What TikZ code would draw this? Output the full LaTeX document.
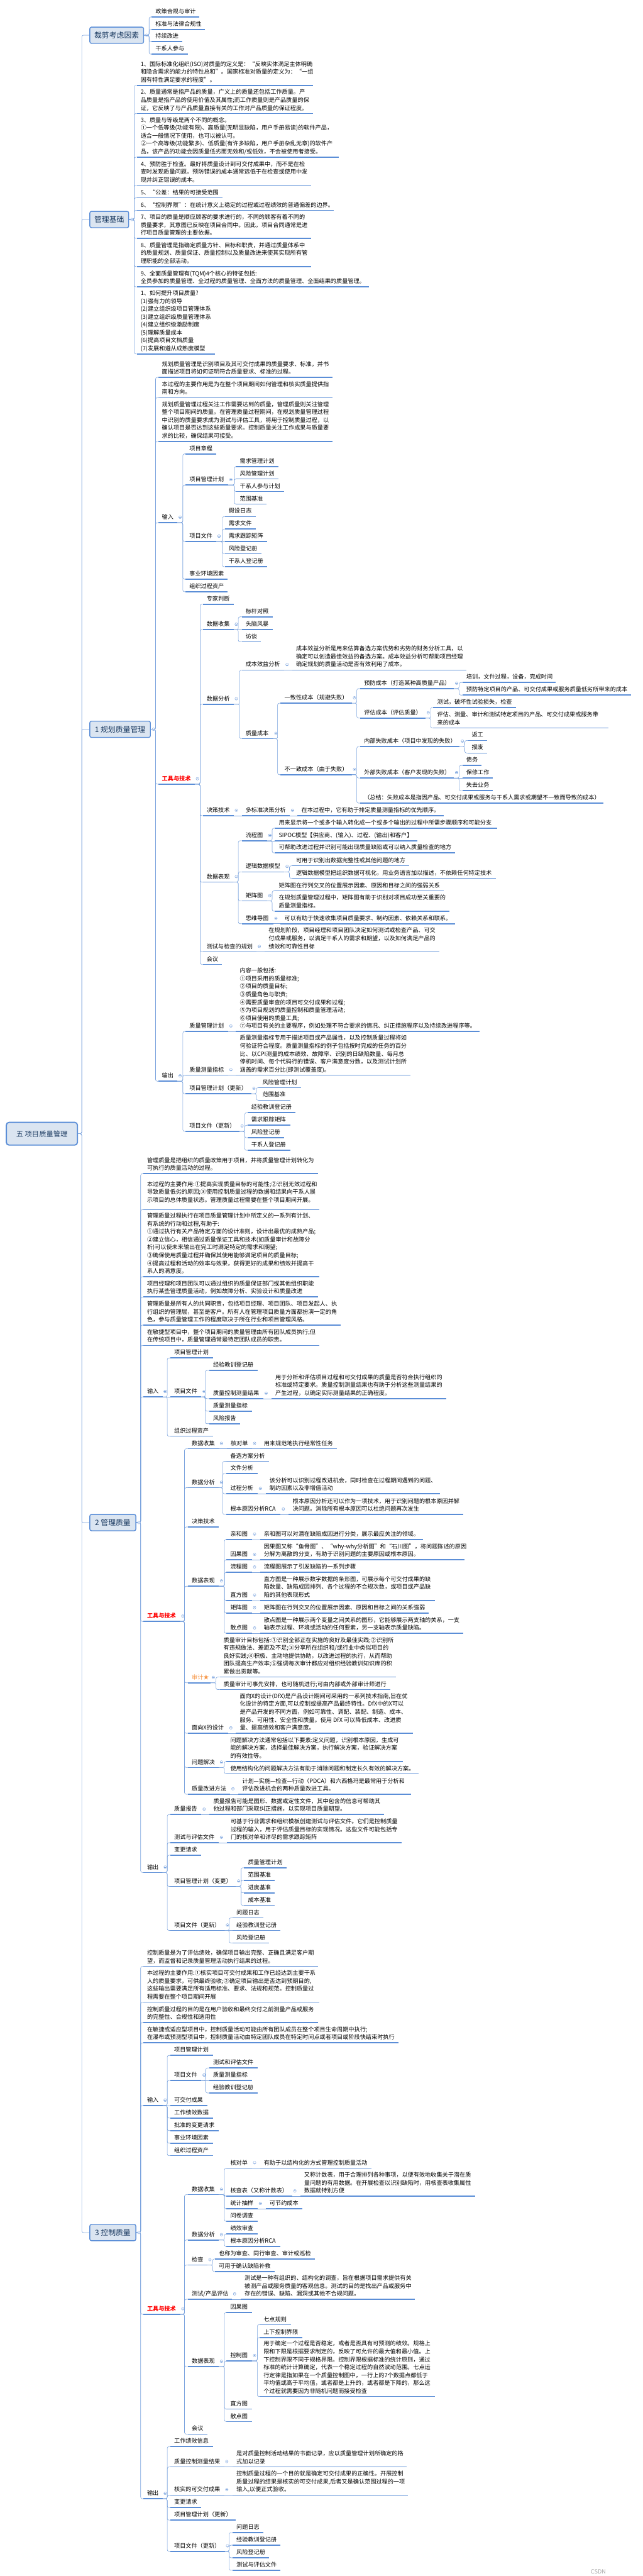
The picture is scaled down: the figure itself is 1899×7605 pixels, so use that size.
\documentclass[tikz,border=0pt]{standalone}
\usepackage{fontspec}
\setmainfont{Noto Sans CJK SC}
\definecolor{ulc}{HTML}{5B8ED7}
\definecolor{cnc}{HTML}{7AA3DE}
\definecolor{bxf}{HTML}{DBE5F1}
\definecolor{bxt}{HTML}{17375E}
\definecolor{orng}{HTML}{F79646}
\newcommand\fsz{\fontsize{17pt}{23.3pt}\selectfont}
\newcommand\fbx{\fontsize{22pt}{26pt}\selectfont}
\newcommand\frt{\fontsize{21pt}{26pt}\selectfont}
\newcommand\tx[2]{\makebox[\dimexpr#1pt-23pt\relax][l]{\begin{tabular}{@{}l@{}}#2\end{tabular}}}
\tikzset{
 ulk/.style={draw=ulc,line width=3pt},
 t/.style={anchor=south west,inner xsep=11.5pt,inner ysep=3pt,outer sep=0pt,font=\fsz,text=black,
   append after command={(\tikzlastnode.south west) edge[ulk] (\tikzlastnode.south east)}},
 conn/.style={draw=cnc,line width=1.1pt,rounded corners=5pt},
 lvl/.style={draw=ulc,fill=bxf,line width=2.5pt,rounded corners=5pt,minimum height=48pt,anchor=west,font=\fbx,text=bxt,inner sep=0pt},
 mk/.style={draw=cnc,fill=white,line width=0.8pt}
}
\newcommand\nd[5]{\node[t] (#1) at (#2,#3) {\tx{#4}{#5}};}
\newcommand\mrk[1]{\draw[mk] ([shift={(8,-16)}]#1.south east) circle (4pt);
  \draw[draw=cnc,line width=0.8pt] ([shift={(5.5,-16)}]#1.south east) -- ([shift={(10.5,-16)}]#1.south east);}
\newcommand\brc[3]{\path (#1.south east) ++(#2,0) coordinate (bv);
  \foreach \ch in {#3}{\draw[conn] (#1.south east) -- (bv) |- (\ch.south west);}\mrk{#1}}
\newcommand\sline[2]{\draw[conn] (#1.south east) -- (#2.south west);\mrk{#1}}
\newcommand\brb[3]{\path (#1.east) ++(#2,0) coordinate (bv);
  \foreach \ch in {#3}{\draw[conn] (#1.east) -- (bv) |- (\ch.south west);}
  \draw[mk] ([xshift=8pt]#1.east) circle (4pt);
  \draw[draw=cnc,line width=0.8pt] ([xshift=5.5pt]#1.east) -- ([xshift=10.5pt]#1.east);}
\begin{document}
\begin{tikzpicture}[x=1pt,y=-1pt]
\fill[white] (0,0) rectangle (1899,7605);
\useasboundingbox (0,0) rectangle (1899,7605);

% ---------- level 0 / 1 ----------
\node[lvl,minimum width=210pt,minimum height=67pt,line width=3.5pt,rounded corners=8pt,font=\frt] (R) at (17,3347) {五 项目质量管理};
\node[lvl,minimum width=159pt] (B1) at (264,104) {裁剪考虑因素};
\node[lvl,minimum width=115pt] (B2) at (264,648) {管理基础};
\node[lvl,minimum width=179pt] (B3) at (264,2153) {1 规划质量管理};
\node[lvl,minimum width=136pt] (B4) at (264,4495) {2 管理质量};
\node[lvl,minimum width=136pt] (B5) at (264,6591) {3 控制质量};
\path (R.east) ++(11,0) coordinate (tv);
\foreach \ch in {B1,B2,B3,B4,B5}{\draw[conn] (R.east) -- (tv) |- (\ch.west);}

% ---------- 裁剪考虑因素 ----------
\nd{a1}{448}{50}{141}{政策合规与审计}
\nd{a2}{448}{87}{158}{标准与法律合规性}
\nd{a3}{448}{123}{90}{持续改进}
\nd{a4}{448}{160}{107}{干系人参与}
\brb{B1}{15}{a1,a2,a3,a4}

% ---------- 管理基础 ----------
\nd{b1}{404}{252}{520}{1、国际标准化组织(ISO)对质量的定义是：“反映实体满足主体明确\\和隐含需求的能力的特性总和”。国家标准对质量的定义为：“一组\\固有特性满足要求的程度”。}
\nd{b2}{404}{335}{520}{2、质量通常是指产品的质量，广义上的质量还包括工作质量。产\\品质量是指产品的使用价值及其属性;而工作质量则是产品质量的保\\证，它反映了与产品质量直接有关的工作对产品质量的保证程度。}
\nd{b3}{404}{464}{597}{3、质量与等级是两个不同的概念。\\①一个低等级(功能有限)、高质量(无明显缺陷，用户手册易读)的软件产品，\\适合一般情况下使用，也可以被认可。\\②一个高等级(功能繁多)、低质量(有许多缺陷，用户手册杂乱无章)的软件产\\品，该产品的功能会因质量低劣而无效和/或低效，不会被使用者接受。}
\nd{b4}{404}{547}{515}{4、预防胜于检查。最好将质量设计到可交付成果中，而不是在检\\查时发现质量问题。预防错误的成本通常远低于在检查或使用中发\\现并纠正错误的成本。}
\nd{b5}{404}{584}{253}{5、“公差：结果的可接受范围}
\nd{b6}{404}{621}{581}{6、“控制界限”：在统计意义上稳定的过程或过程绩效的普通偏差的边界。}
\nd{b7}{404}{704}{515}{7、项目的质量是顺应顾客的要求进行的，不同的顾客有着不同的\\质量要求，其意图已反映在项目合同中。因此，项目合同通常是进\\行项目质量管理的主要依据。}
\nd{b8}{404}{787}{515}{8、质量管理是指确定质量方针、目标和职责，并通过质量体系中\\的质量规划、质量保证、质量控制以及质量改进来使其实现所有管\\理职能的全部活动。}
\nd{b9}{404}{847}{685}{9、全面质量管理有(TQM)4个核心的特征包括:\\全员参加的质量管理、全过程的质量管理、全面方法的质量管理、全面结果的质量管理。}
\nd{b10}{404}{1045}{231}{1、如何提升项目质量?\\(1)强有力的领导\\(2)建立组织级项目管理体系\\(3)建立组织级质量管理体系\\(4)建立组织级激励制度\\(5)理解质量成本\\(6)提高项目文档质量\\(7)发展和遵从成熟度模型}
\brb{B2}{15}{b1,b2,b3,b4,b5,b6,b7,b8,b9,b10}

% ---------- 1 规划质量管理 ----------
\nd{p1}{467}{1114}{516}{规划质量管理是识别项目及其可交付成果的质量要求、标准，并书\\面描述项目将如何证明符合质量要求、标准的过程。}
\nd{p2}{467}{1174}{516}{本过程的主要作用是为在整个项目期间如何管理和核实质量提供指\\南和方向。}
\nd{p3}{467}{1303}{516}{规划质量管理过程关注工作需要达到的质量，管理质量则关注管理\\整个项目期间的质量。在管理质量过程期间，在规划质量管理过程\\中识别的质量要求成为测试与评估工具，将用于控制质量过程，以\\确认项目是否达到这些质量要求。控制质量关注工作成果与质量要\\求的比较，确保结果可接受。}
\nd{pin}{467}{1543}{57}{输入}
\node[t,text=red,font=\fsz\bfseries] (ptt) at (467,2315) {\tx{108}{工具与技术}};
\nd{pout}{467}{3192}{57}{输出}
\brb{B3}{14}{p1,p2,p3,pin,ptt,pout}

% 输入
\nd{i1}{548}{1340}{91}{项目章程}
\nd{i2}{548}{1432}{126}{项目管理计划}
\nd{i3}{548}{1599}{91}{项目文件}
\nd{i4}{548}{1710}{125}{事业环境因素}
\nd{i5}{548}{1747}{125}{组织过程资产}
\brc{pin}{16}{i1,i2,i3,i4,i5}
\nd{i2a}{697}{1378}{125}{需求管理计划}
\nd{i2b}{697}{1414}{125}{风险管理计划}
\nd{i2c}{697}{1451}{142}{干系人参与计划}
\nd{i2d}{697}{1488}{91}{范围基准}
\brc{i2}{18}{i2a,i2b,i2c,i2d}
\nd{i3a}{664}{1525}{91}{假设日志}
\nd{i3b}{664}{1562}{91}{需求文件}
\nd{i3c}{664}{1599}{125}{需求跟踪矩阵}
\nd{i3d}{664}{1635}{108}{风险登记册}
\nd{i3e}{664}{1673}{125}{干系人登记册}
\brc{i3}{18}{i3a,i3b,i3d,i3e}
\sline{i3}{i3c}

% 工具与技术
\nd{t1}{599}{1784}{91}{专家判断}
\nd{t2}{599}{1859}{91}{数据收集}
\nd{t3}{599}{2079}{91}{数据分析}
\nd{t4}{599}{2408}{91}{决策技术}
\nd{t5}{599}{2604}{91}{数据表现}
\nd{t6}{599}{2810}{159}{测试与检查的规划}
\nd{t7}{599}{2847}{56}{会议}
\brc{ptt}{16}{t1,t2,t3,t4,t5,t6,t7}
\nd{t2a}{714}{1821}{91}{标杆对照}
\nd{t2b}{714}{1859}{91}{头脑风暴}
\nd{t2c}{714}{1895}{57}{访谈}
\brc{t2}{14}{t2a,t2c}
\sline{t2}{t2b}
\nd{t3a}{714}{1978}{126}{成本效益分析}
\nd{t3b}{714}{2181}{93}{质量成本}
\brc{t3}{18}{t3a,t3b}
\nd{t3a1}{863}{1978}{515}{成本效益分析是用来估算备选方案优势和劣势的财务分析工具，以\\确定可以创造最佳效益的备选方案。成本效益分析可帮助项目经理\\确定规划的质量活动是否有效利用了成本。}
\sline{t3a}{t3a1}
\nd{q1}{829}{2076}{210}{一致性成本（规避失败）}
\nd{q2}{829}{2287}{210}{不一致成本（由于失败）}
\brc{t3b}{13}{q1,q2}
\nd{q1a}{1064}{2033}{277}{预防成本（打造某种高质量产品）}
\nd{q1b}{1064}{2120}{193}{评估成本（评估质量）}
\brc{q1}{15}{q1a,q1b}
\nd{q1a1}{1366}{2015}{276}{培训，文件过程，设备，完成时间}
\nd{q1a2}{1366}{2052}{499}{预防特定项目的产品、可交付成果或服务质量低劣所带来的成本}
\brc{q1a}{15}{q1a1,q1a2}
\nd{q1b1}{1280}{2089}{245}{测试，破坏性试验损失，检查}
\nd{q1b2}{1280}{2149}{517}{评估、测量、审计和测试特定项目的产品、可交付成果或服务带\\来的成本}
\brc{q1b}{15}{q1b1,q1b2}
\nd{q2a}{1064}{2204}{294}{内部失败成本（项目中发现的失败）}
\nd{q2b}{1064}{2297}{277}{外部失败成本（客户发现的失败）}
\nd{q2c}{1064}{2371}{719}{（总结：失败成本是指因产品、可交付成果或服务与干系人需求或期望不一致而导致的成本）}
\brc{q2}{15}{q2a,q2b,q2c}
\nd{q2a1}{1382}{2186}{56}{返工}
\nd{q2a2}{1382}{2223}{56}{报废}
\brc{q2a}{15}{q2a1,q2a2}
\nd{q2b1}{1366}{2260}{56}{债务}
\nd{q2b2}{1366}{2297}{90}{保修工作}
\nd{q2b3}{1366}{2334}{90}{失去业务}
\brc{q2b}{15}{q2b1,q2b3}
\sline{q2b}{q2b2}
\nd{t4a}{714}{2408}{142}{多标准决策分析}
\nd{t4b}{879}{2408}{432}{在本过程中，它有助于排定质量测量指标的优先顺序。}
\sline{t4}{t4a}
\sline{t4a}{t4b}
\nd{r1}{714}{2482}{75}{流程图}
\nd{r2}{714}{2574}{126}{逻辑数据模型}
\nd{r3}{714}{2660}{75}{矩阵图}
\nd{r4}{714}{2727}{93}{思维导图}
\brc{t5}{14}{r1,r2,r3,r4}
\nd{r1a}{812}{2445}{656}{用来显示将一个或多个输入转化成一个或多个输出的过程中所需步骤顺序和可能分支}
\nd{r1b}{812}{2482}{420}{SIPOC模型【供应商、(输入)、过程、(输出)和客户】}
\nd{r1c}{812}{2518}{532}{可帮助改进过程并识别可能出现质量缺陷或可以纳入质量检查的地方}
\brc{r1}{15}{r1a,r1c}
\sline{r1}{r1b}
\nd{r2a}{863}{2556}{345}{可用于识别出数据完整性或其他问题的地方}
\nd{r2b}{863}{2593}{601}{逻辑数据模型把组织数据可视化，用业务语言加以描述，不依赖任何特定技术}
\brc{r2}{15}{r2a,r2b}
\nd{r3a}{812}{2630}{499}{矩阵图在行列交叉的位置展示因素、原因和目标之间的强弱关系}
\nd{r3b}{812}{2690}{516}{在规划质量管理过程中，矩阵图有助于识别对项目成功至关重要的\\质量测量指标。}
\brc{r3}{15}{r3a,r3b}
\nd{r4a}{829}{2727}{516}{可以有助于快速收集项目质量要求、制约因素、依赖关系和联系。}
\sline{r4}{r4a}
\nd{t6a}{782}{2810}{516}{在规划阶段，项目经理和项目团队决定如何测试或检查产品、可交\\付成果或服务，以满足干系人的需求和期望，以及如何满足产品的\\绩效和可靠性目标}
\sline{t6}{t6a}

% 输出
\nd{o1}{548}{3045}{126}{质量管理计划}
\nd{o2}{548}{3174}{126}{质量测量指标}
\nd{o3}{548}{3229}{194}{项目管理计划（更新）}
\nd{o4}{548}{3340}{159}{项目文件（更新）}
\brc{pout}{16}{o1,o2,o3,o4}
\nd{o1a}{697}{3045}{720}{内容一般包括:\\①项目采用的质量标准;\\②项目的质量目标;\\③质量角色与职责;\\④需要质量审查的项目可交付成果和过程;\\⑤为项目规划的质量控制和质量管理活动;\\⑥项目使用的质量工具;\\⑦与项目有关的主要程序，例如处理不符合要求的情况、纠正措施程序以及持续改进程序等。}
\sline{o1}{o1a}
\nd{o2a}{697}{3174}{516}{质量测量指标专用于描述项目或产品属性，以及控制质量过程将如\\何验证符合程度。质量测量指标的例子包括按时完成的任务的百分\\比、以CPI测量的成本绩效、故障率、识别的日缺陷数量、每月总\\停机时间、每个代码行的错误、客户满意度分数，以及测试计划所\\涵盖的需求百分比(即测试覆盖度)。}
\sline{o2}{o2a}
\nd{o3a}{764}{3211}{126}{风险管理计划}
\nd{o3b}{764}{3248}{93}{范围基准}
\brc{o3}{15}{o3a,o3b}
\nd{o4a}{731}{3285}{142}{经验教训登记册}
\nd{o4b}{731}{3322}{126}{需求跟踪矩阵}
\nd{o4c}{731}{3359}{108}{风险登记册}
\nd{o4d}{731}{3396}{126}{干系人登记册}
\brc{o4}{16}{o4a,o4b,o4c,o4d}

% ---------- 2 管理质量 ----------
\nd{m1}{423}{3465}{516}{管理质量是把组织的质量政策用于项目，并将质量管理计划转化为\\可执行的质量活动的过程。}
\node[t,inner ysep=15pt] (m2) at (423,3571) {\tx{520}{本过程的主要作用:①提高实现质量目标的可能性;②识别无效过程和\\导致质量低劣的原因;③使用控制质量过程的数据和结果向干系人展\\示项目的总体质量状态。管理质量过程需要在整个项目期间开展。}};
\nd{m3}{423}{3769}{521}{管理质量过程执行在项目质量管理计划中所定义的一系列有计划、\\有系统的行动和过程,有助于:\\①通过执行有关产品特定方面的设计准则，设计出最优的成熟产品;\\②建立信心，相信通过质量保证工具和技术(如质量审计和故障分\\析)可以使未来输出在完工时满足特定的需求和期望;\\③确保使用质量过程并确保其使用能够满足项目的质量目标;\\④提高过程和活动的效率与效果，获得更好的成果和绩效并提高干\\系人的满意度。}
\nd{m4}{423}{3829}{516}{项目经理和项目团队可以通过组织的质量保证部门或其他组织职能\\执行某些管理质量活动，例如故障分析、实验设计和质量改进}
\nd{m5}{423}{3912}{584}{管理质量是所有人的共同职责，包括项目经理、项目团队、项目发起人、执\\行组织的管理层，甚至是客户。所有人在管理项目质量方面都扮演一定的角\\色，参与质量管理工作的程度取决于所在行业和项目管理风格。}
\nd{m6}{423}{3972}{520}{在敏捷型项目中，整个项目期间的质量管理由所有团队成员执行;但\\在传统项目中，质量管理通常是特定团队成员的职责。}
\nd{min}{423}{4124}{57}{输入}
\node[t,text=red,font=\fsz\bfseries] (mtt) at (423,4787) {\tx{109}{工具与技术}};
\nd{mout}{423}{5528}{57}{输出}
\brb{B4}{13}{m1,m2,m3,m4,m5,m6,min,mtt,mout}

\nd{mi1}{503}{4009}{126}{项目管理计划}
\nd{mi2}{503}{4124}{92}{项目文件}
\nd{mi3}{503}{4240}{126}{组织过程资产}
\brc{min}{14}{mi1,mi3}
\sline{min}{mi2}
\nd{mi2a}{618}{4046}{143}{经验教训登记册}
\nd{mi2b}{618}{4129}{160}{质量控制测量结果}
\nd{mi2c}{618}{4166}{126}{质量测量指标}
\nd{mi2d}{618}{4203}{91}{风险报告}
\brc{mi2}{11}{mi2a,mi2b,mi2c,mi2d}
\nd{mi2b1}{802}{4129}{516}{用于分析和评估项目过程和可交付成果的质量是否符合执行组织的\\标准或特定要求。质量控制测量结果也有助于分析这些测量结果的\\产生过程，以确定实际测量结果的正确程度。}
\sline{mi2b}{mi2b1}

\nd{mt1}{555}{4277}{91}{数据收集}
\nd{mt1a}{670}{4277}{74}{核对单}
\nd{mt1b}{768}{4277}{227}{用来规范地执行经常性任务}
\sline{mt1}{mt1a}
\sline{mt1a}{mt1b}
\nd{mt2}{555}{4392}{91}{数据分析}
\nd{mt2a}{669}{4314}{125}{备选方案分析}
\nd{mt2b}{669}{4350}{92}{文件分析}
\nd{mt2c}{669}{4410}{92}{过程分析}
\nd{mt2d}{669}{4471}{160}{根本原因分析RCA}
\brc{mt2}{12}{mt2a,mt2b,mt2c,mt2d}
\nd{mt2c1}{785}{4410}{515}{该分析可以识别过程改进机会，同时检查在过程期间遇到的问题、\\制约因素以及非增值活动}
\sline{mt2c}{mt2c1}
\nd{mt2d1}{853}{4471}{515}{根本原因分析还可以作为一项技术，用于识别问题的根本原因并解\\决问题。消除所有根本原因可以杜绝问题再次发生}
\sline{mt2d}{mt2d1}
\nd{mt3}{555}{4508}{91}{决策技术}
\nd{mt4}{555}{4683}{91}{数据表现}
\nd{mt4a}{669}{4545}{75}{亲和图}
\nd{mt4b}{669}{4605}{75}{因果图}
\nd{mt4c}{669}{4642}{75}{流程图}
\nd{mt4d}{669}{4725}{75}{直方图}
\nd{mt4e}{669}{4762}{75}{矩阵图}
\nd{mt4f}{669}{4822}{75}{散点图}
\brc{mt4}{17}{mt4a,mt4b,mt4c,mt4d,mt4e,mt4f}
\nd{mt4a1}{768}{4545}{482}{亲和图可以对潜在缺陷成因进行分类，展示最应关注的领域。}
\nd{mt4b1}{768}{4605}{604}{因果图又称“鱼骨图”、“why-why分析图”和“石川图”，将问题陈述的原因\\分解为离散的分支，有助于识别问题的主要原因或根本原因。}
\nd{mt4c1}{768}{4642}{295}{流程图展示了引发缺陷的一系列步骤}
\nd{mt4d1}{768}{4725}{516}{直方图是一种展示数字数据的条形图，可展示每个可交付成果的缺\\陷数量、缺陷成因排列、各个过程的不合规次数，或项目或产品缺\\陷的其他表现形式}
\nd{mt4e1}{768}{4762}{499}{矩阵图在行列交叉的位置展示因素、原因和目标之间的关系强弱}
\nd{mt4f1}{768}{4822}{600}{散点图是一种展示两个变量之间关系的图形，它能够展示两支轴的关系，一支\\轴表示过程、环境或活动的任何要素，另一支轴表示质量缺陷。}
\sline{mt4a}{mt4a1}
\sline{mt4b}{mt4b1}
\sline{mt4c}{mt4c1}
\sline{mt4d}{mt4d1}
\sline{mt4e}{mt4e1}
\sline{mt4f}{mt4f1}
\node[t,text=orng] (mt5) at (555,4968) {\tx{67}{审计★}};
\nd{mt5a}{649}{4951}{520}{质量审计目标包括:①识别全部正在实施的良好及最佳实践;②识别所\\有违规做法、差距及不足;③分享所在组织和/或行业中类似项目的\\良好实践;④积极、主动地提供协助，以改进过程的执行，从而帮助\\团队提高生产效率;⑤强调每次审计都应对组织经验教训知识库的积\\累做出贡献等。}
\nd{mt5b}{649}{4988}{504}{质量审计可事先安排，也可随机进行;可由内部或外部审计师进行}
\brc{mt5}{16}{mt5a,mt5b}
\nd{mt6}{555}{5117}{119}{面向X的设计}
\nd{mt6a}{697}{5117}{523}{面向X的设计(DfX)是产品设计期间可采用的一系列技术指南,旨在优\\化设计的特定方面,可以控制或提高产品最终特性。DfX中的X可以\\是产品开发的不同方面，例如可靠性、调配、装配、制造、成本、\\服务、可用性、安全性和质量。使用 DfX 可以降低成本、改进质\\量、提高绩效和客户满意度。}
\sline{mt6}{mt6a}
\nd{mt7}{555}{5218}{91}{问题解决}
\nd{mt7a}{669}{5200}{521}{问题解决方法通常包括以下要素:定义问题，识别根本原因，生成可\\能的解决方案，选择最佳解决方案，执行解决方案，验证解决方案\\的有效性等。}
\nd{mt7b}{669}{5237}{567}{使用结构化的问题解决方法有助于消除问题和制定长久有效的解决方案。}
\brc{mt7}{17}{mt7a,mt7b}
\nd{mt8}{555}{5297}{125}{质量改进方法}
\nd{mt8a}{704}{5297}{510}{计划—实施—检查—行动（PDCA）和六西格玛是最常用于分析和\\评估改进机会的两种质量改进工具。}
\sline{mt8}{mt8a}
\brc{mtt}{13}{mt1,mt2,mt3,mt4,mt5,mt6,mt7,mt8}

\nd{mo1}{503}{5357}{92}{质量报告}
\nd{mo1a}{619}{5357}{516}{质量报告可能是图形、数据或定性文件，其中包含的信息可帮助其\\他过程和部门采取纠正措施，以实现项目质量期望。}
\sline{mo1}{mo1a}
\nd{mo2}{503}{5440}{143}{测试与评估文件}
\nd{mo2a}{670}{5440}{516}{可基于行业需求和组织模板创建测试与评估文件。它们是控制质量\\过程的输入，用于评估质量目标的实现情况。这些文件可能包括专\\门的核对单和详尽的需求跟踪矩阵}
\sline{mo2}{mo2a}
\nd{mo3}{503}{5477}{92}{变更请求}
\nd{mo4}{503}{5569}{194}{项目管理计划（变更）}
\nd{mo4a}{721}{5514}{125}{质量管理计划}
\nd{mo4b}{721}{5551}{91}{范围基准}
\nd{mo4c}{721}{5588}{91}{进度基准}
\nd{mo4d}{721}{5625}{91}{成本基准}
\brc{mo4}{15}{mo4a,mo4b,mo4c,mo4d}
\nd{mo5}{503}{5699}{161}{项目文件（更新）}
\nd{mo5a}{687}{5662}{91}{问题日志}
\nd{mo5b}{687}{5699}{142}{经验教训登记册}
\nd{mo5c}{687}{5736}{107}{风险登记册}
\brc{mo5}{13}{mo5a,mo5c}
\sline{mo5}{mo5b}
\brc{mout}{14}{mo1,mo2,mo3,mo4,mo5}

% ---------- 3 控制质量 ----------
\nd{k1}{423}{5805}{516}{控制质量是为了评估绩效，确保项目输出完整、正确且满足客户期\\望，而监督和记录质量管理活动执行结果的过程。}
\nd{k2}{423}{5911}{520}{本过程的主要作用:①核实项目可交付成果和工作已经达到主要干系\\人的质量要求，可供最终验收;②确定项目输出是否达到预期目的,\\这些输出需要满足所有适用标准、要求、法规和规范。控制质量过\\程需要在整个项目期间开展}
\nd{k3}{423}{5971}{516}{控制质量过程的目的是在用户验收和最终交付之前测量产品或服务\\的完整性、合规性和适用性}
\nd{k4}{423}{6031}{754}{在敏捷或适应型项目中，控制质量活动可能由所有团队成员在整个项目生命周期中执行;\\在瀑布或预测型项目中，控制质量活动由特定团队成员在特定时间点或者项目或阶段快结束时执行}
\nd{kin}{423}{6216}{57}{输入}
\node[t,text=red,font=\fsz\bfseries] (ktt) at (423,6832) {\tx{109}{工具与技术}};
\nd{kout}{423}{7377}{57}{输出}
\brb{B5}{13}{k1,k2,k3,k4,kin,ktt,kout}

\nd{ki1}{503}{6068}{126}{项目管理计划}
\nd{ki2}{503}{6142}{92}{项目文件}
\nd{ki3}{503}{6216}{109}{可交付成果}
\nd{ki4}{503}{6253}{126}{工作绩效数据}
\nd{ki5}{503}{6290}{143}{批准的变更请求}
\nd{ki6}{503}{6327}{126}{事业环境因素}
\nd{ki7}{503}{6364}{126}{组织过程资产}
\brc{kin}{14}{ki1,ki2,ki4,ki5,ki6,ki7}
\sline{kin}{ki3}
\nd{ki2a}{618}{6105}{143}{测试和评估文件}
\nd{ki2b}{618}{6142}{126}{质量测量指标}
\nd{ki2c}{618}{6179}{143}{经验教训登记册}
\brc{ki2}{13}{ki2a,ki2c}
\sline{ki2}{ki2b}

\nd{kt1}{555}{6479}{91}{数据收集}
\nd{kt1a}{669}{6401}{75}{核对单}
\nd{kt1b}{669}{6484}{194}{核查表（又称计数表）}
\nd{kt1c}{669}{6521}{92}{统计抽样}
\nd{kt1d}{669}{6558}{92}{问卷调查}
\brc{kt1}{17}{kt1a,kt1b,kt1c,kt1d}
\nd{kt1a1}{768}{6401}{329}{有助于以结构化的方式管理控制质量活动}
\sline{kt1a}{kt1a1}
\nd{kt1b1}{887}{6484}{516}{又称计数表，用于合理排列各种事项，以便有效地收集关于潜在质\\量问题的有用数据。在开展检查以识别缺陷时，用核查表收集属性\\数据就特别方便}
\sline{kt1b}{kt1b1}
\nd{kt1c1}{785}{6521}{108}{可节约成本}
\sline{kt1c}{kt1c1}
\nd{kt2}{555}{6613}{91}{数据分析}
\nd{kt2a}{669}{6595}{92}{绩效审查}
\nd{kt2b}{669}{6632}{160}{根本原因分析RCA}
\brc{kt2}{17}{kt2a,kt2b}
\nd{kt3}{555}{6687}{57}{检查}
\nd{kt3a}{635}{6669}{296}{也称为审查、同行审查、审计或巡检}
\nd{kt3b}{635}{6706}{177}{可用于确认缺陷补救}
\brc{kt3}{16}{kt3a,kt3b}
\nd{kt4}{555}{6788}{130}{测试/产品评估}
\nd{kt4a}{711}{6788}{515}{测试是一种有组织的、结构化的调查，旨在根据项目需求提供有关\\被测产品或服务质量的客观信息。测试的目的是找出产品或服务中\\存在的错误、缺陷、漏洞或其他不合规问题。}
\sline{kt4}{kt4a}
\nd{kt5}{555}{6987}{91}{数据表现}
\nd{kt5a}{669}{6827}{75}{因果图}
\nd{kt5b}{669}{6970}{75}{控制图}
\nd{kt5c}{669}{7112}{75}{直方图}
\nd{kt5d}{669}{7149}{75}{散点图}
\brc{kt5}{17}{kt5a,kt5b,kt5c,kt5d}
\nd{kt5b1}{767}{6863}{92}{七点规则}
\nd{kt5b2}{767}{6901}{126}{上下控制界限}
\nd{kt5b3}{767}{7075}{517}{用于确定一个过程是否稳定，或者是否具有可预测的绩效。规格上\\限和下限是根据要求制定的，反映了可允许的最大值和最小值。上\\下控制界限不同于规格界限。控制界限根据标准的统计原则，通过\\标准的统计计算确定，代表一个稳定过程的自然波动范围。七点运\\行定律是指如果在一个质量控制图中，一行上的7个数据点都低于\\平均值或高于平均值，或者都是上升的，或者都是下降的，那么这\\个过程就需要因为非随机问题而接受检查}
\brc{kt5b}{16}{kt5b1,kt5b2,kt5b3}
\nd{kt6}{555}{7186}{57}{会议}
\brc{ktt}{13}{kt1,kt2,kt3,kt4,kt5,kt6}

\nd{ko1}{503}{7223}{126}{工作绩效信息}
\nd{ko2}{503}{7283}{159}{质量控制测量结果}
\nd{ko2a}{687}{7283}{515}{是对质量控制活动结果的书面记录，应以质量管理计划所确定的格\\式加以记录}
\sline{ko2}{ko2a}
\nd{ko3}{503}{7366}{159}{核实的可交付成果}
\nd{ko3a}{687}{7366}{518}{控制质量过程的一个目的就是确定可交付成果的正确性。开展控制\\质量过程的结果是核实的可交付成果,后者又是确认范围过程的一项\\输入,以便正式验收。}
\sline{ko3}{ko3a}
\nd{ko4}{503}{7403}{92}{变更请求}
\nd{ko5}{503}{7440}{194}{项目管理计划（更新）}
\nd{ko6}{503}{7532}{161}{项目文件（更新）}
\nd{ko6a}{687}{7477}{91}{问题日志}
\nd{ko6b}{687}{7514}{142}{经验教训登记册}
\nd{ko6c}{687}{7551}{107}{风险登记册}
\nd{ko6d}{687}{7588}{142}{测试与评估文件}
\brc{ko6}{13}{ko6a,ko6b,ko6c,ko6d}
\brc{kout}{14}{ko1,ko2,ko3,ko4,ko5,ko6}

\node[anchor=south west,inner sep=0pt,font=\fsz,text=black!35] (wm) at (1745,7598) {CSDN};
\end{tikzpicture}
\end{document}
